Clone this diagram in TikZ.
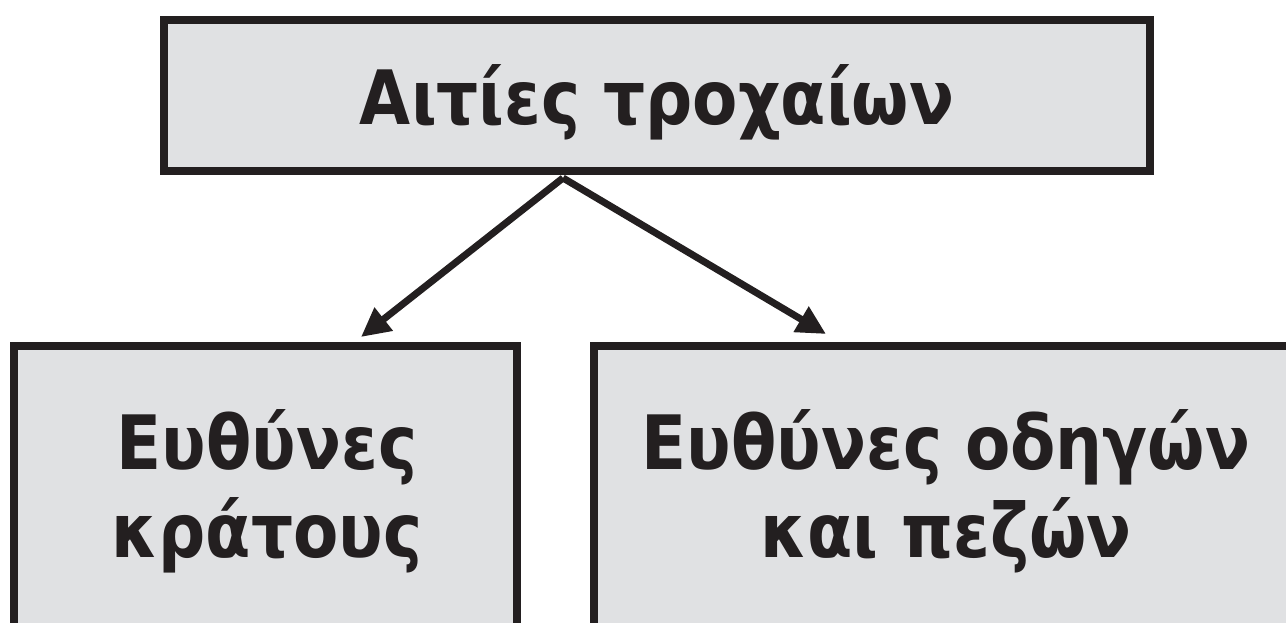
\documentclass[tikz,border=0pt]{standalone}
\usepackage{fontspec}
\usetikzlibrary{arrows.meta,positioning}
\newfontfamily\greekbold[FakeStretch=0.88]{DejaVu Sans}
\definecolor{boxline}{RGB}{35,31,32}
\definecolor{boxfill}{RGB}{224,225,227}

\begin{document}
\begin{tikzpicture}[x=1pt,y=1pt,
  cbox/.style={draw=boxline,line width=8pt,fill=boxfill,inner sep=0pt},
  ctext/.style={font=\greekbold\bfseries\fontsize{75}{88}\selectfont,text=boxline,align=center,inner sep=0pt},
  carrow/.style={draw=boxline,line width=7pt,-{Triangle[length=29pt,width=28pt]}},
]
  \useasboundingbox (0,0) rectangle (1286,623);
  \clip (0,0) rectangle (1286,623);
  % top box
  \node[cbox,ctext,minimum width=986pt,minimum height=150.5pt,text height=58.5pt,text depth=0pt] (cause) at (657,527.25) {Αιτίες τροχαίων};
  % lower boxes, cut off by the page edge
  \node[cbox,minimum width=503pt,minimum height=420pt,anchor=north] (state) at (265,281) {};
  \node[cbox,minimum width=704pt,minimum height=420pt,anchor=north] (users) at (946,281) {};
  \node[ctext,anchor=base] (statetext) at (267,65) {Ευθύνες\\κράτους};
  \node[ctext,anchor=base] (userstext) at (946,65) {Ευθύνες οδηγών\\και πεζών};
  % arrows
  \coordinate (fork) at (563,445);
  \draw[carrow] (fork) -- ([xshift=96pt,yshift=5pt]state.north);
  \draw[carrow] (fork) -- ([xshift=-120pt,yshift=8pt]users.north);
\end{tikzpicture}
\end{document}
